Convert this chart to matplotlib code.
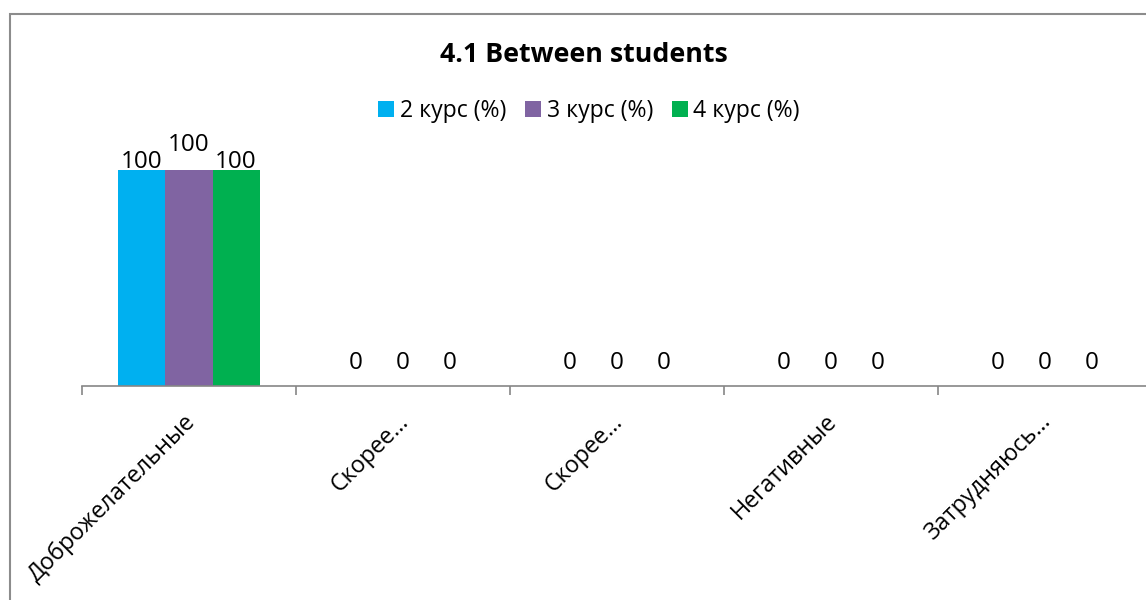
import matplotlib.pyplot as plt
from matplotlib.patches import Rectangle
from matplotlib.transforms import ScaledTranslation
import numpy as np

plt.rcParams['font.family'] = ['Open Sans', 'DejaVu Sans']

# Answers and percentages per year of study
categories = ['Доброжелательные', 'Скорее…', 'Скорее…', 'Негативные', 'Затрудняюсь…']
series_names = ['2 курс (%)', '3 курс (%)', '4 курс (%)']
kurs2 = [100, 0, 0, 0, 0]
kurs3 = [100, 0, 0, 0, 0]
kurs4 = [100, 0, 0, 0, 0]
colors = ['#00B0F0', '#8064A2', '#00B050']

W, H = 1146, 600
fig = plt.figure(figsize=(W / 100, H / 100), dpi=100)

# plot area (wider than the image, the right part is cut off)
left, right, base = 82, 1152, 386
ax = fig.add_axes([left / W, (H - base) / H, (right - left) / W, 259.2 / H])

x = np.arange(len(categories))
bw = 0.22
series = [kurs2, kurs3, kurs4]
for i, (vals, name, c) in enumerate(zip(series, series_names, colors)):
    pos = x + (i - 1) * bw
    ax.bar(pos, vals, bw, color=c, label=name)
    for xp, v in zip(pos, vals):
        # zero labels sit higher, the middle "100" is pushed up to avoid overlap
        if v == 0:
            dy = 12
        elif i == 1:
            dy = 14
        else:
            dy = 1.5
        ax.annotate(str(v), (xp, v), xytext=(0, dy), textcoords='offset points',
                    ha='center', va='baseline', fontsize=17.5, color='black')

ax.set_xlim(-0.5, len(categories) - 0.5)
ax.set_ylim(0, 120)
for s in ['top', 'right', 'left']:
    ax.spines[s].set_visible(False)
ax.spines['bottom'].set_color('#868686')
ax.spines['bottom'].set_linewidth(1.2)
ax.set_yticks([])

ax.set_xticks(x)
ax.set_xticklabels(categories, rotation=45, ha='right', rotation_mode='anchor', fontsize=16.8)
ax.tick_params(axis='x', which='major', length=0, pad=17)
shift = ScaledTranslation(-6 / 100, 0, fig.dpi_scale_trans)
for lbl in ax.get_xticklabels():
    lbl.set_transform(lbl.get_transform() + shift)
ax.set_xticks(np.arange(len(categories) + 1) - 0.5, minor=True)
ax.tick_params(axis='x', which='minor', length=6.5, width=1.2, color='#868686', direction='out')

fig.text(584 / W, 1 - 55 / H, '4.1 Between students', ha='center', va='center',
         fontsize=19.3, fontweight='bold')

fig.legend(loc='center', bbox_to_anchor=(589 / W, 1 - 111 / H), ncol=3, frameon=False,
           fontsize=16.6, handlelength=0.7, handleheight=0.7, handletextpad=0.25,
           columnspacing=0.8)

# chart border
fig.patches.append(Rectangle((10 / W, -0.1), 1148 / W, 1.1 - 14 / H, transform=fig.transFigure,
                             fill=False, edgecolor='#8c8c8c', linewidth=1.5, clip_on=False))

fig.savefig('out.png', dpi=100)
